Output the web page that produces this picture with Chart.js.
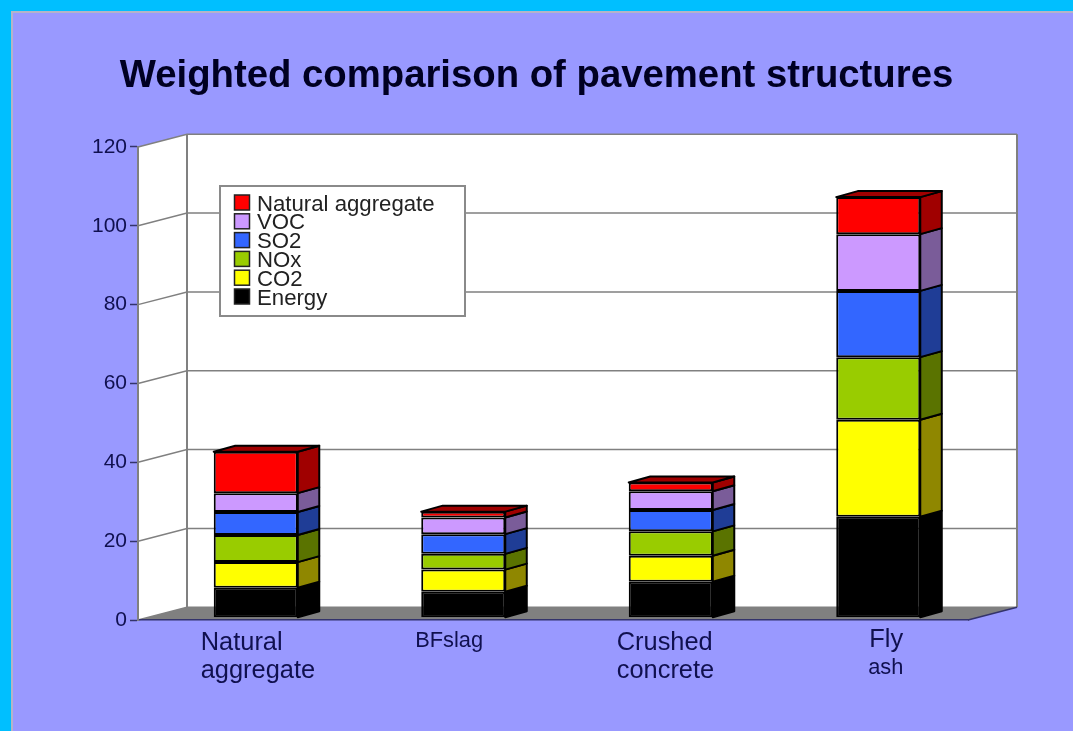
<!DOCTYPE html>
<html>
<head>
<meta charset="utf-8">
<title>Weighted comparison of pavement structures</title>
<script src="https://cdn.jsdelivr.net/npm/chart.js@4"></script>
<style>
  html, body { margin: 0; padding: 0; background: #9999ff; overflow: hidden; }
  canvas { display: block; }
</style>
</head>
<body>
<canvas id="chart" width="1073" height="731"></canvas>
<script>
const titleText = "Weighted comparison of pavement structures";
const categories = ["Natural aggregate", "BFslag", "Crushed concrete", "Fly ash"];

// bottom to top of the stack
const energy = [7.6, 6.6, 9.1, 25.6];
const co2 = [6.5, 5.6, 6.6, 24.6];
const nox = [6.9, 4.0, 6.2, 15.9];
const so2 = [5.8, 5.0, 5.4, 16.8];
const voc = [4.8, 4.2, 4.8, 14.4];
const naturalAggregate = [10.5, 1.5, 2.2, 9.4];

const seriesNames = ["Energy", "CO2", "NOx", "SO2", "VOC", "Natural aggregate"];
const seriesValues = [energy, co2, nox, so2, voc, naturalAggregate];
const frontColors = ["#000000", "#ffff00", "#99cc00", "#3366ff", "#cc99ff", "#ff0000"];
const sideColors = ["#000000", "#8f8700", "#5a7300", "#1f3d96", "#7a5c99", "#a00000"];

const font = "'Liberation Sans', Arial, sans-serif";
const textColor = "#10104f";
const gridColor = "#808080";

// depth of the fake 3D box and of the bars
const wallDx = 49, wallDy = -12.7;
const barDx = 21.5, barDy = -6;
const barShiftX = 14, barShiftY = -2.3;

const box3d = {
  id: "box3d",
  beforeDraw(chart) {
    const { ctx, chartArea: a, scales: { y } } = chart;
    ctx.save();
    // page frame
    ctx.fillStyle = "#00bfff";
    ctx.fillRect(0, 0, chart.width, chart.height);
    ctx.fillStyle = "#9999ff";
    ctx.fillRect(11, 11, chart.width, chart.height);
    ctx.strokeStyle = "#b4b4c8";
    ctx.lineWidth = 2;
    ctx.beginPath();
    ctx.moveTo(12, chart.height);
    ctx.lineTo(12, 12);
    ctx.lineTo(chart.width, 12);
    ctx.stroke();

    // walls
    const backL = a.left + wallDx, backR = a.right + wallDx;
    const backT = a.top + wallDy, backB = a.bottom + wallDy;
    ctx.fillStyle = "#ffffff";
    ctx.beginPath();
    ctx.moveTo(a.left, a.top);
    ctx.lineTo(backL, backT);
    ctx.lineTo(backR, backT);
    ctx.lineTo(backR, backB);
    ctx.lineTo(backL, backB);
    ctx.lineTo(a.left, a.bottom);
    ctx.closePath();
    ctx.fill();

    // floor
    ctx.fillStyle = gridColor;
    ctx.beginPath();
    ctx.moveTo(a.left, a.bottom);
    ctx.lineTo(backL, backB);
    ctx.lineTo(backR, backB);
    ctx.lineTo(a.right, a.bottom);
    ctx.closePath();
    ctx.fill();

    // grid lines run along the side wall and then along the back wall
    ctx.strokeStyle = gridColor;
    ctx.lineWidth = 1.5;
    y.ticks.forEach(t => {
      const py = y.getPixelForValue(t.value);
      ctx.beginPath();
      ctx.moveTo(a.left, py);
      ctx.lineTo(backL, py + wallDy);
      ctx.lineTo(backR, py + wallDy);
      ctx.stroke();
    });
    ctx.lineWidth = 2;
    ctx.beginPath();
    ctx.moveTo(backL, backT);
    ctx.lineTo(backL, backB);
    ctx.moveTo(backR, backT);
    ctx.lineTo(backR, backB);
    ctx.stroke();

    ctx.strokeStyle = "#33336b";
    ctx.lineWidth = 1.5;
    ctx.beginPath();
    ctx.moveTo(a.right, a.bottom);
    ctx.lineTo(backR, backB);
    ctx.stroke();
    ctx.restore();
  },
  beforeDatasetsDraw(chart) {
    chart.ctx.save();
    chart.ctx.translate(barShiftX, barShiftY);
  },
  afterDatasetsDraw(chart) {
    const ctx = chart.ctx;
    ctx.strokeStyle = "#000000";
    ctx.lineWidth = 2;
    ctx.lineJoin = "round";
    const last = seriesValues.length - 1;
    seriesValues.forEach((_, i) => {
      chart.getDatasetMeta(i).data.forEach(bar => {
        const right = bar.x + bar.width / 2;
        const left = bar.x - bar.width / 2;
        ctx.fillStyle = sideColors[i];
        ctx.beginPath();
        ctx.moveTo(right, bar.base);
        ctx.lineTo(right + barDx, bar.base + barDy);
        ctx.lineTo(right + barDx, bar.y + barDy);
        ctx.lineTo(right, bar.y);
        ctx.closePath();
        ctx.fill();
        ctx.stroke();
        if (i === last) {
          ctx.beginPath();
          ctx.moveTo(left, bar.y);
          ctx.lineTo(left + barDx, bar.y + barDy);
          ctx.lineTo(right + barDx, bar.y + barDy);
          ctx.lineTo(right, bar.y);
          ctx.closePath();
          ctx.fill();
          ctx.stroke();
        }
      });
    });
    ctx.restore();
  },
  afterDraw(chart) {
    const { ctx, scales: { x } } = chart;
    ctx.save();
    ctx.textBaseline = "alphabetic";
    ctx.textAlign = "left";

    // category labels, uneven sizes as in the slide
    ctx.fillStyle = textColor;
    const cx = i => x.getPixelForValue(i);
    const big = "25.4px " + font, small = "21.8px " + font;
    ctx.font = big;
    ctx.fillText("Natural", cx(0) - 41, 650);
    ctx.fillText("aggregate", cx(0) - 41, 678);
    ctx.fillText("Crushed", cx(2) - 40, 650);
    ctx.fillText("concrete", cx(2) - 40, 678);
    ctx.fillText("Fly", cx(3) + 5, 647);
    ctx.font = small;
    ctx.fillText("BFslag", cx(1) - 34, 647);
    ctx.fillText("ash", cx(3) + 4, 674);

    // legend, top of stack first
    ctx.fillStyle = "#ffffff";
    ctx.fillRect(220, 186, 245, 130);
    ctx.strokeStyle = "#8a8a8a";
    ctx.lineWidth = 2;
    ctx.strokeRect(220, 186, 245, 130);
    ctx.font = "22.2px " + font;
    seriesNames.slice().reverse().forEach((name, i) => {
      const row = 202.5 + i * 18.8;
      ctx.fillStyle = frontColors[seriesNames.length - 1 - i];
      ctx.fillRect(234.5, row - 7.5, 15, 15);
      ctx.strokeStyle = "#222222";
      ctx.lineWidth = 1.5;
      ctx.strokeRect(234.5, row - 7.5, 15, 15);
      ctx.fillStyle = "#222222";
      ctx.fillText(name, 257, row + 8);
    });
    ctx.restore();
  }
};

new Chart(document.getElementById("chart"), {
  type: "bar",
  data: {
    labels: categories,
    datasets: seriesNames.map((name, i) => ({
      label: name,
      data: seriesValues[i],
      backgroundColor: frontColors[i],
      borderColor: "#000000",
      borderWidth: 2,
      borderSkipped: false,
      barPercentage: 0.405,
      categoryPercentage: 1,
      clip: false
    }))
  },
  options: {
    responsive: false,
    animation: false,
    layout: { padding: 0 },
    plugins: {
      legend: { display: false },
      tooltip: { enabled: false },
      title: {
        display: true,
        text: titleText,
        color: "#000022",
        font: { family: font, size: 38.3, weight: "bold", lineHeight: 1.2 },
        padding: { top: 53, bottom: 48 }
      }
    },
    scales: {
      x: {
        stacked: true,
        grid: { display: false },
        ticks: { display: false },
        border: { color: "#33336b", width: 1.5 },
        afterFit(s) { s.height = 111; }
      },
      y: {
        stacked: true,
        min: 0,
        max: 120,
        ticks: {
          stepSize: 20,
          padding: 3,
          color: textColor,
          font: { family: font, size: 21 }
        },
        grid: { drawOnChartArea: false, tickLength: 8, tickColor: "#33336b", tickWidth: 1.5 },
        border: { color: gridColor, width: 2 },
        afterFit(s) { s.width = 138; }
      },
      // empty axis, only keeps room on the right so the title stays centred on the page
      spacer: {
        position: "right",
        grid: { display: false },
        ticks: { display: false },
        border: { display: false },
        afterFit(s) { s.width = 105; }
      }
    }
  },
  plugins: [box3d]
});
</script>
</body>
</html>
